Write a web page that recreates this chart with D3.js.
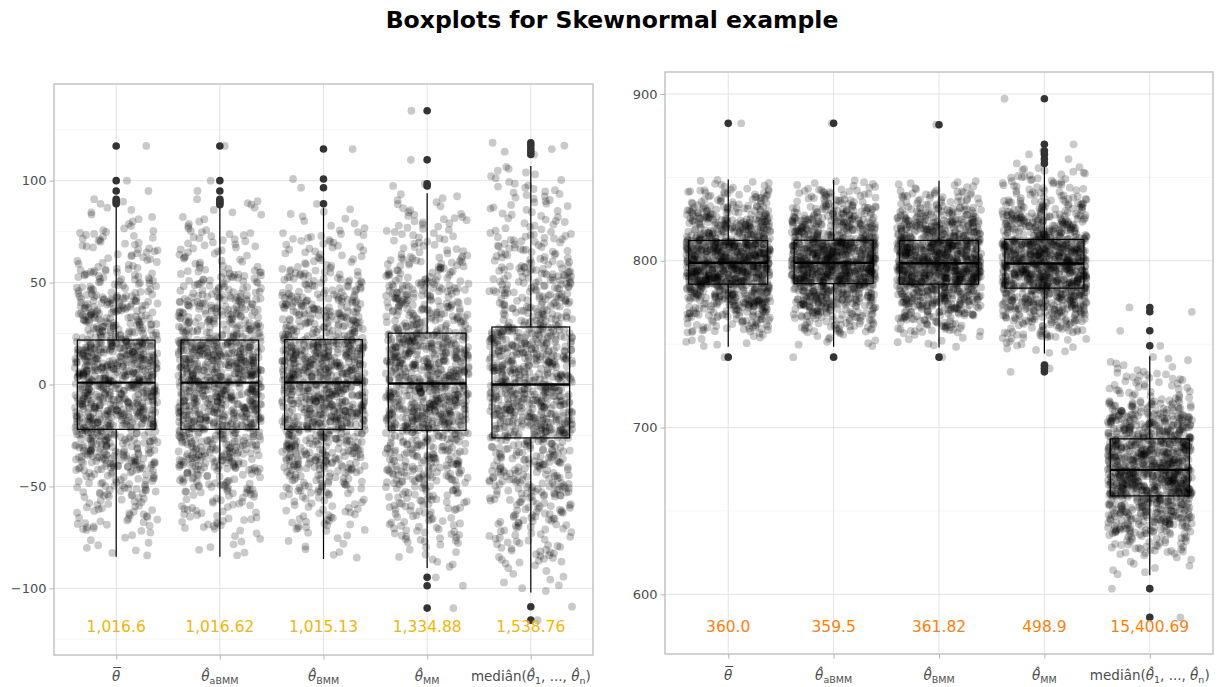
<!DOCTYPE html>
<html><head><meta charset="utf-8">
<script src="https://cdn.jsdelivr.net/npm/d3@7"></script>
<style>
body{margin:0;background:#fff;}
text{font-family:"DejaVu Sans",sans-serif;}
</style></head>
<body><svg id="chart" width="1229" height="687"></svg>
<script>
// ---------- DATA ----------
const categories = ["mean", "aBMM", "BMM", "MM", "median"];
// tick label pieces: [text, isSubscript]
const tickLabels = [
  [["θ", false]],
  [["θ\u0302", false], ["aBMM", true]],
  [["θ\u0302", false], ["BMM", true]],
  [["θ\u0302", false], ["MM", true]],
  [["mediân(", false], ["θ\u0302", false], ["1", true], [", ..., ", false], ["θ\u0302", false], ["n", true], [")", false]]
];
const titleText = "Boxplots for Skewnormal example";

// percentile positions used to describe each jittered cloud
const cloudPercentiles = [0, 0.01, 0.05, 0.10, 0.25, 0.50, 0.75, 0.90, 0.95, 0.99, 1];

// LEFT panel
const leftTicks = [-100, -50, 0, 50, 100];
const leftMinor = [-125, -75, -25, 25, 75, 125];
const leftQ1 = [-22.0, -22.0, -22.0, -22.5, -26.2];
const leftMedian = [0.9, 0.9, 1.0, 0.5, 0.0];
const leftQ3 = [21.8, 21.8, 22.0, 25.2, 28.2];
const leftWhiskerLow = [-84.5, -84.5, -85.6, -90.0, -102.0];
const leftWhiskerHigh = [87.3, 87.3, 86.5, 93.8, 107.2];
const leftOutliers = [
  [88.6, 89.7, 90.9, 94.9, 100, 117],
  [88.2, 89.0, 89.9, 90.9, 94.9, 100, 117],
  [88.6, 96.5, 100.8, 115.5],
  [-109.7, -98.7, -94.6, 97.4, 98.4, 110.2, 134.3],
  [-115.6, -109.0, 112.8, 114.2, 115.5, 117.2, 118.6]
];
const leftCloud = [ // values at cloudPercentiles
  [-84.5, -72, -55, -42, -22.0, 0.9, 21.8, 44, 57, 76, 87.3],
  [-84.5, -71, -54, -42, -22.0, 0.9, 21.8, 44, 56, 76, 87.3],
  [-85.6, -72, -54, -42, -22.0, 1.0, 22.0, 44, 56, 75, 86.5],
  [-90.0, -78, -62, -48, -22.5, 0.5, 25.2, 50, 63, 84, 93.8],
  [-102.0, -88, -70, -55, -26.2, 0.0, 28.2, 58, 74, 98, 107.2]
];
const leftAnnot = ["1,016.6", "1,016.62", "1,015.13", "1,334.88", "1,538.76"];

// RIGHT panel
const rightTicks = [600, 700, 800, 900];
const rightMinor = [650, 750, 850];
const rightQ1 = [786.0, 786.3, 786.0, 783.6, 659.0];
const rightMedian = [798.8, 798.8, 798.5, 798.4, 674.6];
const rightQ3 = [812.2, 812.3, 812.2, 812.8, 693.2];
const rightWhiskerLow = [748.4, 748.4, 748.0, 744.4, 611.4];
const rightWhiskerHigh = [848.8, 848.5, 848.0, 856.4, 742.8];
const rightOutliers = [
  [742.2, 882.4],
  [742.2, 882.4],
  [742.2, 881.6],
  [733.4, 735.4, 737.4, 858.4, 861.0, 863.8, 866.0, 869.8, 897.2],
  [586.2, 603.4, 749.0, 758.0, 769.4, 772.0]
];
const rightCloud = [
  [748.4, 757, 766, 773, 786.0, 798.8, 812.2, 826, 833, 843, 848.8],
  [748.4, 757, 766, 773, 786.3, 798.8, 812.3, 826, 833, 843, 848.5],
  [748.0, 757, 766, 773, 786.0, 798.5, 812.2, 825, 832, 842, 848.0],
  [744.4, 753, 763, 770, 783.6, 798.4, 812.8, 828, 837, 851, 856.4],
  [611.4, 624, 636, 643, 659.0, 674.6, 693.2, 708, 716, 733, 742.8]
];
const rightAnnot = ["360.0", "359.5", "361.82", "498.9", "15,400.69"];
const pointsPerGroup = 1000;

// ---------- DRAW ----------
const svg = d3.select("#chart");

svg.append("text").attr("x", 612).attr("y", 28).attr("text-anchor", "middle")
  .style("font-family", "'DejaVu Sans', sans-serif").style("font-weight", "bold")
  .style("font-size", "23.5px").attr("fill", "#000").text(titleText);

// deterministic integer hash, used only to scatter the jitter layout
function hash01(n) {
  n = n | 0;
  n = Math.imul(n ^ (n >>> 16), 0x45d9f3b);
  n = Math.imul(n ^ (n >>> 16), 0x45d9f3b);
  n = n ^ (n >>> 16);
  return (n >>> 0) / 4294967296;
}

function panel(cfg) {
  const {x0, x1, y0, y1, domain, ticks, minor, q1, med, q3, wlo, whi, outliers, cloud, annot, annotColor, annotValue, seed} = cfg;
  const g = svg.append("g");
  const x = d3.scalePoint().domain(categories).range([x0, x1]).padding(0.6);
  const y = d3.scaleLinear().domain(domain).range([y1, y0]);
  const step = x.step();

  g.append("rect").attr("x", x0).attr("y", y0).attr("width", x1 - x0).attr("height", y1 - y0).attr("fill", "#fff");
  g.selectAll(".minor").data(minor).join("line")
    .attr("x1", x0).attr("x2", x1).attr("y1", d => y(d)).attr("y2", d => y(d))
    .attr("stroke", "#f2f2f2").attr("stroke-width", 0.8);
  g.selectAll(".major").data(ticks).join("line")
    .attr("x1", x0).attr("x2", x1).attr("y1", d => y(d)).attr("y2", d => y(d))
    .attr("stroke", "#e3e3e3").attr("stroke-width", 1);
  g.selectAll(".vmajor").data(categories).join("line")
    .attr("x1", d => x(d)).attr("x2", d => x(d)).attr("y1", y0).attr("y2", y1)
    .attr("stroke", "#e3e3e3").attr("stroke-width", 1);

  // jittered points: each group's cloud sits at evenly spaced quantiles of the read percentiles
  const pts = [];
  categories.forEach((c, ci) => {
    const q = d3.scaleLinear().domain(cloudPercentiles).range(cloud[ci]);
    for (let i = 0; i < pointsPerGroup; i++) {
      const u = hash01(seed * 100003 + ci * 7919 + i * 31 + 1);
      pts.push({x: x(c) + (u - 0.5) * 0.8 * step, y: y(q((i + 0.5) / pointsPerGroup)), o: hash01(i * 17 + ci + seed)});
    }
    outliers[ci].forEach((o, j) => {
      const u = hash01(seed * 999 + ci * 131 + j * 57 + 5);
      pts.push({x: x(c) + (u - 0.5) * 0.8 * step, y: y(o), o: 0});
    });
  });
  pts.sort((a, b) => a.o - b.o);
  g.append("g").selectAll("circle").data(pts).join("circle")
    .attr("cx", d => d.x).attr("cy", d => d.y).attr("r", 3.9)
    .attr("fill", "#000").attr("fill-opacity", 0.21);

  // boxes
  const bw = 0.75 * step;
  const bx = g.append("g");
  categories.forEach((c, i) => {
    const cx = x(c);
    bx.append("line").attr("x1", cx).attr("x2", cx).attr("y1", y(q3[i])).attr("y2", y(whi[i]))
      .attr("stroke", "#000").attr("stroke-width", 1.2);
    bx.append("line").attr("x1", cx).attr("x2", cx).attr("y1", y(q1[i])).attr("y2", y(wlo[i]))
      .attr("stroke", "#000").attr("stroke-width", 1.2);
    bx.append("rect").attr("x", cx - bw / 2).attr("width", bw)
      .attr("y", y(q3[i])).attr("height", y(q1[i]) - y(q3[i]))
      .attr("fill", "none").attr("stroke", "#000").attr("stroke-width", 1.2);
    bx.append("line").attr("x1", cx - bw / 2).attr("x2", cx + bw / 2)
      .attr("y1", y(med[i])).attr("y2", y(med[i])).attr("stroke", "#000").attr("stroke-width", 2.4);
    bx.selectAll(null).data(outliers[i]).join("circle")
      .attr("cx", cx).attr("cy", d => y(d)).attr("r", 3.8).attr("fill", "#333");
  });

  g.selectAll(".ann").data(annot).join("text")
    .attr("x", (d, i) => x(categories[i])).attr("y", y(annotValue)).attr("dy", "0.35em")
    .attr("text-anchor", "middle").attr("fill", annotColor).style("font-size", "15.5px").text(d => d);

  g.append("rect").attr("x", x0).attr("y", y0).attr("width", x1 - x0).attr("height", y1 - y0)
    .attr("fill", "none").attr("stroke", "#c4c4c4").attr("stroke-width", 1.5);

  const ya = g.append("g").attr("transform", `translate(${x0},0)`)
    .call(d3.axisLeft(y).tickValues(ticks).tickSize(4.5).tickPadding(3).tickFormat(d3.format("")));
  ya.select(".domain").remove();
  ya.selectAll("line").attr("stroke", "#b3b3b3");
  ya.selectAll("text").attr("fill", "#4d4d4d").style("font-size", "13px")
    .style("font-family", "'DejaVu Sans', sans-serif").text(d => d < 0 ? "\u2212" + Math.abs(d) : d);

  const xa = g.append("g").attr("transform", `translate(0,${y1})`)
    .call(d3.axisBottom(x).tickSize(4.5).tickFormat(""));
  xa.select(".domain").remove();
  xa.selectAll("line").attr("stroke", "#b3b3b3");
  categories.forEach((c, i) => {
    const t = g.append("text").attr("x", x(c)).attr("y", y1 + 26).attr("text-anchor", "middle")
      .attr("fill", "#4d4d4d").style("font-size", "13.5px");
    tickLabels[i].forEach(([s, sub], j) => {
      const ts = t.append("tspan").text(s);
      if (s.startsWith("θ")) ts.style("font-style", "italic");
      if (sub) ts.style("font-size", "9.5px").attr("dy", 3);
      else if (j > 0 && tickLabels[i][j - 1][1]) ts.attr("dy", -3);
    });
    if (i === 0) { // bar over theta
      g.append("line").attr("x1", x(c) - 3).attr("x2", x(c) + 5)
        .attr("y1", y1 + 12.5).attr("y2", y1 + 12.5).attr("stroke", "#4d4d4d").attr("stroke-width", 1);
    }
  });
}

panel({x0: 54, x1: 593, y0: 84, y1: 655, domain: [-132.7, 147.4], ticks: leftTicks, minor: leftMinor,
  q1: leftQ1, med: leftMedian, q3: leftQ3, wlo: leftWhiskerLow, whi: leftWhiskerHigh,
  outliers: leftOutliers, cloud: leftCloud, annot: leftAnnot, annotColor: "#f2b50a", annotValue: -119, seed: 1});

panel({x0: 665, x1: 1213, y0: 72, y1: 654, domain: [564.2, 913.2], ticks: rightTicks, minor: rightMinor,
  q1: rightQ1, med: rightMedian, q3: rightQ3, wlo: rightWhiskerLow, whi: rightWhiskerHigh,
  outliers: rightOutliers, cloud: rightCloud, annot: rightAnnot, annotColor: "#ff7f0e", annotValue: 580.5, seed: 2});
</script></body></html>
